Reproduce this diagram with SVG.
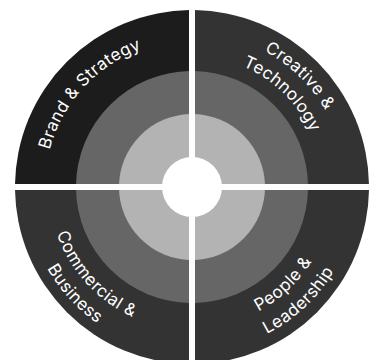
<svg xmlns="http://www.w3.org/2000/svg" width="377" height="360" viewBox="0 0 377 360">
<style>
.outer{fill:#333333}
.outer.dark{fill:#1c1c1c}
.mid{fill:#666666}
.inner{fill:#b3b3b3}
.label{font-family:Inter,"Liberation Sans",sans-serif;font-size:17px;letter-spacing:0.4px;fill:#ffffff;text-anchor:middle}
</style>
<defs>
<clipPath id="cTL"><rect x="0" y="0" width="189" height="184"/></clipPath>
<clipPath id="cTR"><rect x="195" y="0" width="182" height="184"/></clipPath>
<clipPath id="cBL"><rect x="0" y="190" width="189" height="170"/></clipPath>
<clipPath id="cBR"><rect x="195" y="190" width="182" height="170"/></clipPath>
<path id="pBrand" d="M 45 187 A 147 147 0 0 1 192 40"/>
<path id="pCreative" d="M 38 187 A 154 154 0 0 1 346 187"/>
<path id="pTech" d="M 61 187 A 131 131 0 0 1 323 187"/>
<path id="pComm" d="M 49 187 A 143 143 0 0 0 335 187"/>
<path id="pBus" d="M 26 187 A 166 166 0 0 0 358 187"/>
<path id="pPeople" d="M 51 187 A 141 141 0 0 0 333 187"/>
<path id="pLead" d="M 27 187 A 165 165 0 0 0 357 187"/>
</defs>
<g id="brand-strategy">
<g clip-path="url(#cTL)">
<circle class="outer dark" cx="192" cy="187" r="177"/>
<circle class="mid" cx="192" cy="187" r="116"/>
<circle class="inner" cx="192" cy="187" r="73"/>
</g>
<text class="label"><textPath href="#pBrand" startOffset="47%">Brand &amp; Strategy</textPath></text>
</g>
<g id="creative-technology">
<g clip-path="url(#cTR)">
<circle class="outer" cx="192" cy="187" r="177"/>
<circle class="mid" cx="192" cy="187" r="116"/>
<circle class="inner" cx="192" cy="187" r="73"/>
</g>
<text class="label"><textPath href="#pCreative" startOffset="74.5%">Creative &amp;</textPath></text>
<text class="label"><textPath href="#pTech" startOffset="74.5%">Technology</textPath></text>
</g>
<g id="commercial-business">
<g clip-path="url(#cBL)">
<circle class="outer" cx="192" cy="187" r="177"/>
<circle class="mid" cx="192" cy="187" r="116"/>
<circle class="inner" cx="192" cy="187" r="73"/>
</g>
<text class="label"><textPath href="#pComm" startOffset="23.5%">Commercial &amp;</textPath></text>
<text class="label"><textPath href="#pBus" startOffset="23.5%">Business</textPath></text>
</g>
<g id="people-leadership">
<g clip-path="url(#cBR)">
<circle class="outer" cx="192" cy="187" r="177"/>
<circle class="mid" cx="192" cy="187" r="116"/>
<circle class="inner" cx="192" cy="187" r="73"/>
</g>
<text class="label"><textPath href="#pPeople" startOffset="74%">People &amp;</textPath></text>
<text class="label"><textPath href="#pLead" startOffset="74%">Leadership</textPath></text>
</g>
<g id="core">
<circle cx="192" cy="187" r="30" fill="#ffffff"/>
</g>
<g id="connectors"/>
</svg>
